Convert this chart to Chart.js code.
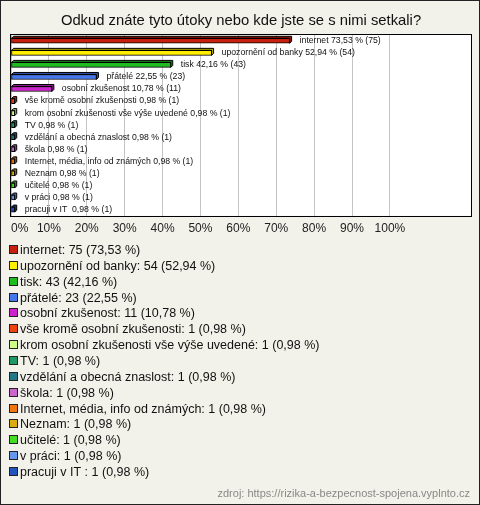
<!DOCTYPE html>
<html>
<head>
<meta charset="utf-8">
<script src="https://cdn.jsdelivr.net/npm/chart.js@4"></script>
<style>
  html, body { margin: 0; padding: 0; background: #f3f2ea; }
</style>
</head>
<body>
<canvas id="myChart" width="480" height="505"></canvas>
<script>
var categories = [
  "internet", "upozornění od banky", "tisk", "přátelé", "osobní zkušenost",
  "vše kromě osobní zkušenosti", "krom osobní zkušenosti vše výše uvedené",
  "TV", "vzdělání a obecná znaslost", "škola", "Internet, média, info od známých",
  "Neznam", "učitelé", "v práci", "pracuji v IT "
];
var counts = [75, 54, 43, 23, 11, 1, 1, 1, 1, 1, 1, 1, 1, 1, 1];
var percents = [73.53, 52.94, 42.16, 22.55, 10.78, 0.98, 0.98, 0.98, 0.98, 0.98, 0.98, 0.98, 0.98, 0.98, 0.98];
var tickValues = [0, 10, 20, 30, 40, 50, 60, 70, 80, 90, 100];
var axisMax = 121.4;

var colors = [
  "#c8200e", "#ffee00", "#1fbb1f", "#4477ee", "#cc22cc",
  "#ee4411", "#ccff88", "#1f9966", "#227788", "#cc66cc",
  "#ee7711", "#ddaa11", "#44dd22", "#6699ee", "#2255bb"
];

function fmt(v) {
  return v.toFixed(2).replace(".", ",");
}

function darken(hex, f) {
  var n = parseInt(hex.slice(1), 16);
  var r = Math.round(((n >> 16) & 255) * f);
  var g = Math.round(((n >> 8) & 255) * f);
  var b = Math.round((n & 255) * f);
  return "rgb(" + r + "," + g + "," + b + ")";
}

var FONT = "'Liberation Sans', Arial, sans-serif";

var paper = {
  id: "paper",
  beforeDraw: function(chart) {
    var c = chart.ctx, a = chart.chartArea;
    c.save();
    c.fillStyle = "#f3f2ea";
    c.fillRect(0, 0, chart.width, chart.height);
    c.fillStyle = "#ffffff";
    c.fillRect(a.left, a.top, a.right - a.left, a.bottom - a.top);
    c.restore();
  }
};

// the little 3D depth behind each bar
var depth = {
  id: "depth",
  beforeDatasetsDraw: function(chart) {
    var c = chart.ctx;
    var d = 2;
    chart.getDatasetMeta(0).data.forEach(function(el, i) {
      var x0 = el.base, x1 = el.x;
      var top = el.y - el.height / 2, bot = el.y + el.height / 2;
      c.save();
      c.beginPath();
      c.moveTo(x0, top);
      c.lineTo(x0 + d, top - d);
      c.lineTo(x1 + d, top - d);
      c.lineTo(x1 + d, bot - d);
      c.lineTo(x1, bot);
      c.lineTo(x1, top);
      c.closePath();
      c.fillStyle = darken(colors[i], 0.7);
      c.fill();
      c.lineWidth = 1;
      c.strokeStyle = "#000";
      c.stroke();
      c.restore();
    });
  }
};

var extras = {
  id: "extras",
  afterDatasetsDraw: function(chart) {
    var c = chart.ctx, a = chart.chartArea;
    c.save();
    // plot frame
    c.strokeStyle = "#000";
    c.lineWidth = 1;
    c.strokeRect(Math.round(a.left) - 0.5, Math.round(a.top) - 0.5,
      Math.round(a.right - a.left) + 1, Math.round(a.bottom - a.top) + 1);

    // labels beside the bars
    c.font = "8.7px " + FONT;
    c.fillStyle = "#111";
    c.textBaseline = "middle";
    chart.getDatasetMeta(0).data.forEach(function(el, i) {
      c.fillText(categories[i] + " " + fmt(percents[i]) + " % (" + counts[i] + ")", el.x + 10, el.y);
    });

    // legend list
    c.font = "12.5px " + FONT;
    for (var i = 0; i < categories.length; i++) {
      var y = 250 + i * 15.86;
      c.fillStyle = colors[i];
      c.fillRect(10, Math.round(y) - 4, 7, 7);
      c.strokeStyle = "#222";
      c.strokeRect(9.5, Math.round(y) - 4.5, 8, 8);
      c.fillStyle = "#111";
      c.fillText(categories[i] + ": " + counts[i] + " (" + fmt(percents[i]) + " %)", 20, y + 0.5);
    }

    // source
    c.font = "11px " + FONT;
    c.fillStyle = "#888";
    c.textAlign = "right";
    c.fillText("zdroj: https://rizika-a-bezpecnost-spojena.vyplnto.cz", 470, 494);

    // outer frame
    c.strokeStyle = "#222";
    c.strokeRect(0.5, 0.5, chart.width - 1, chart.height - 1);
    c.restore();
  }
};

var ctx = document.getElementById("myChart").getContext("2d");

var myChart = new Chart(ctx, {
  type: "bar",
  data: {
    labels: categories,
    datasets: [{
      data: percents,
      backgroundColor: colors,
      borderColor: "#000",
      borderWidth: 1,
      borderSkipped: false,
      barThickness: 5
    }]
  },
  plugins: [paper, depth, extras],
  options: {
    indexAxis: "y",
    responsive: false,
    animation: false,
    layout: {
      padding: { left: 11, right: 9, top: 0, bottom: 263 }
    },
    scales: {
      x: {
        min: 0,
        max: axisMax,
        afterBuildTicks: function(axis) {
          // labelled ticks up to 100 %, plus an empty one at the right edge
          axis.ticks = tickValues.map(function(v) { return { value: v }; });
          axis.ticks.push({ value: axisMax });
        },
        grid: { color: "#c4c4c4", drawTicks: false },
        border: { display: false },
        ticks: {
          padding: 6,
          align: "inner",
          color: "#222",
          font: { size: 12, family: FONT },
          callback: function(v) { return tickValues.indexOf(v) >= 0 ? v + "%" : ""; }
        }
      },
      y: {
        display: false
      }
    },
    plugins: {
      legend: { display: false },
      tooltip: { enabled: false },
      title: {
        display: true,
        text: "Odkud znáte tyto útoky nebo kde jste se s nimi setkali?",
        color: "#111",
        font: { size: 14.8, family: FONT, weight: "normal" },
        padding: { top: 12, bottom: 5 }
      }
    }
  }
});
</script>
</body>
</html>
